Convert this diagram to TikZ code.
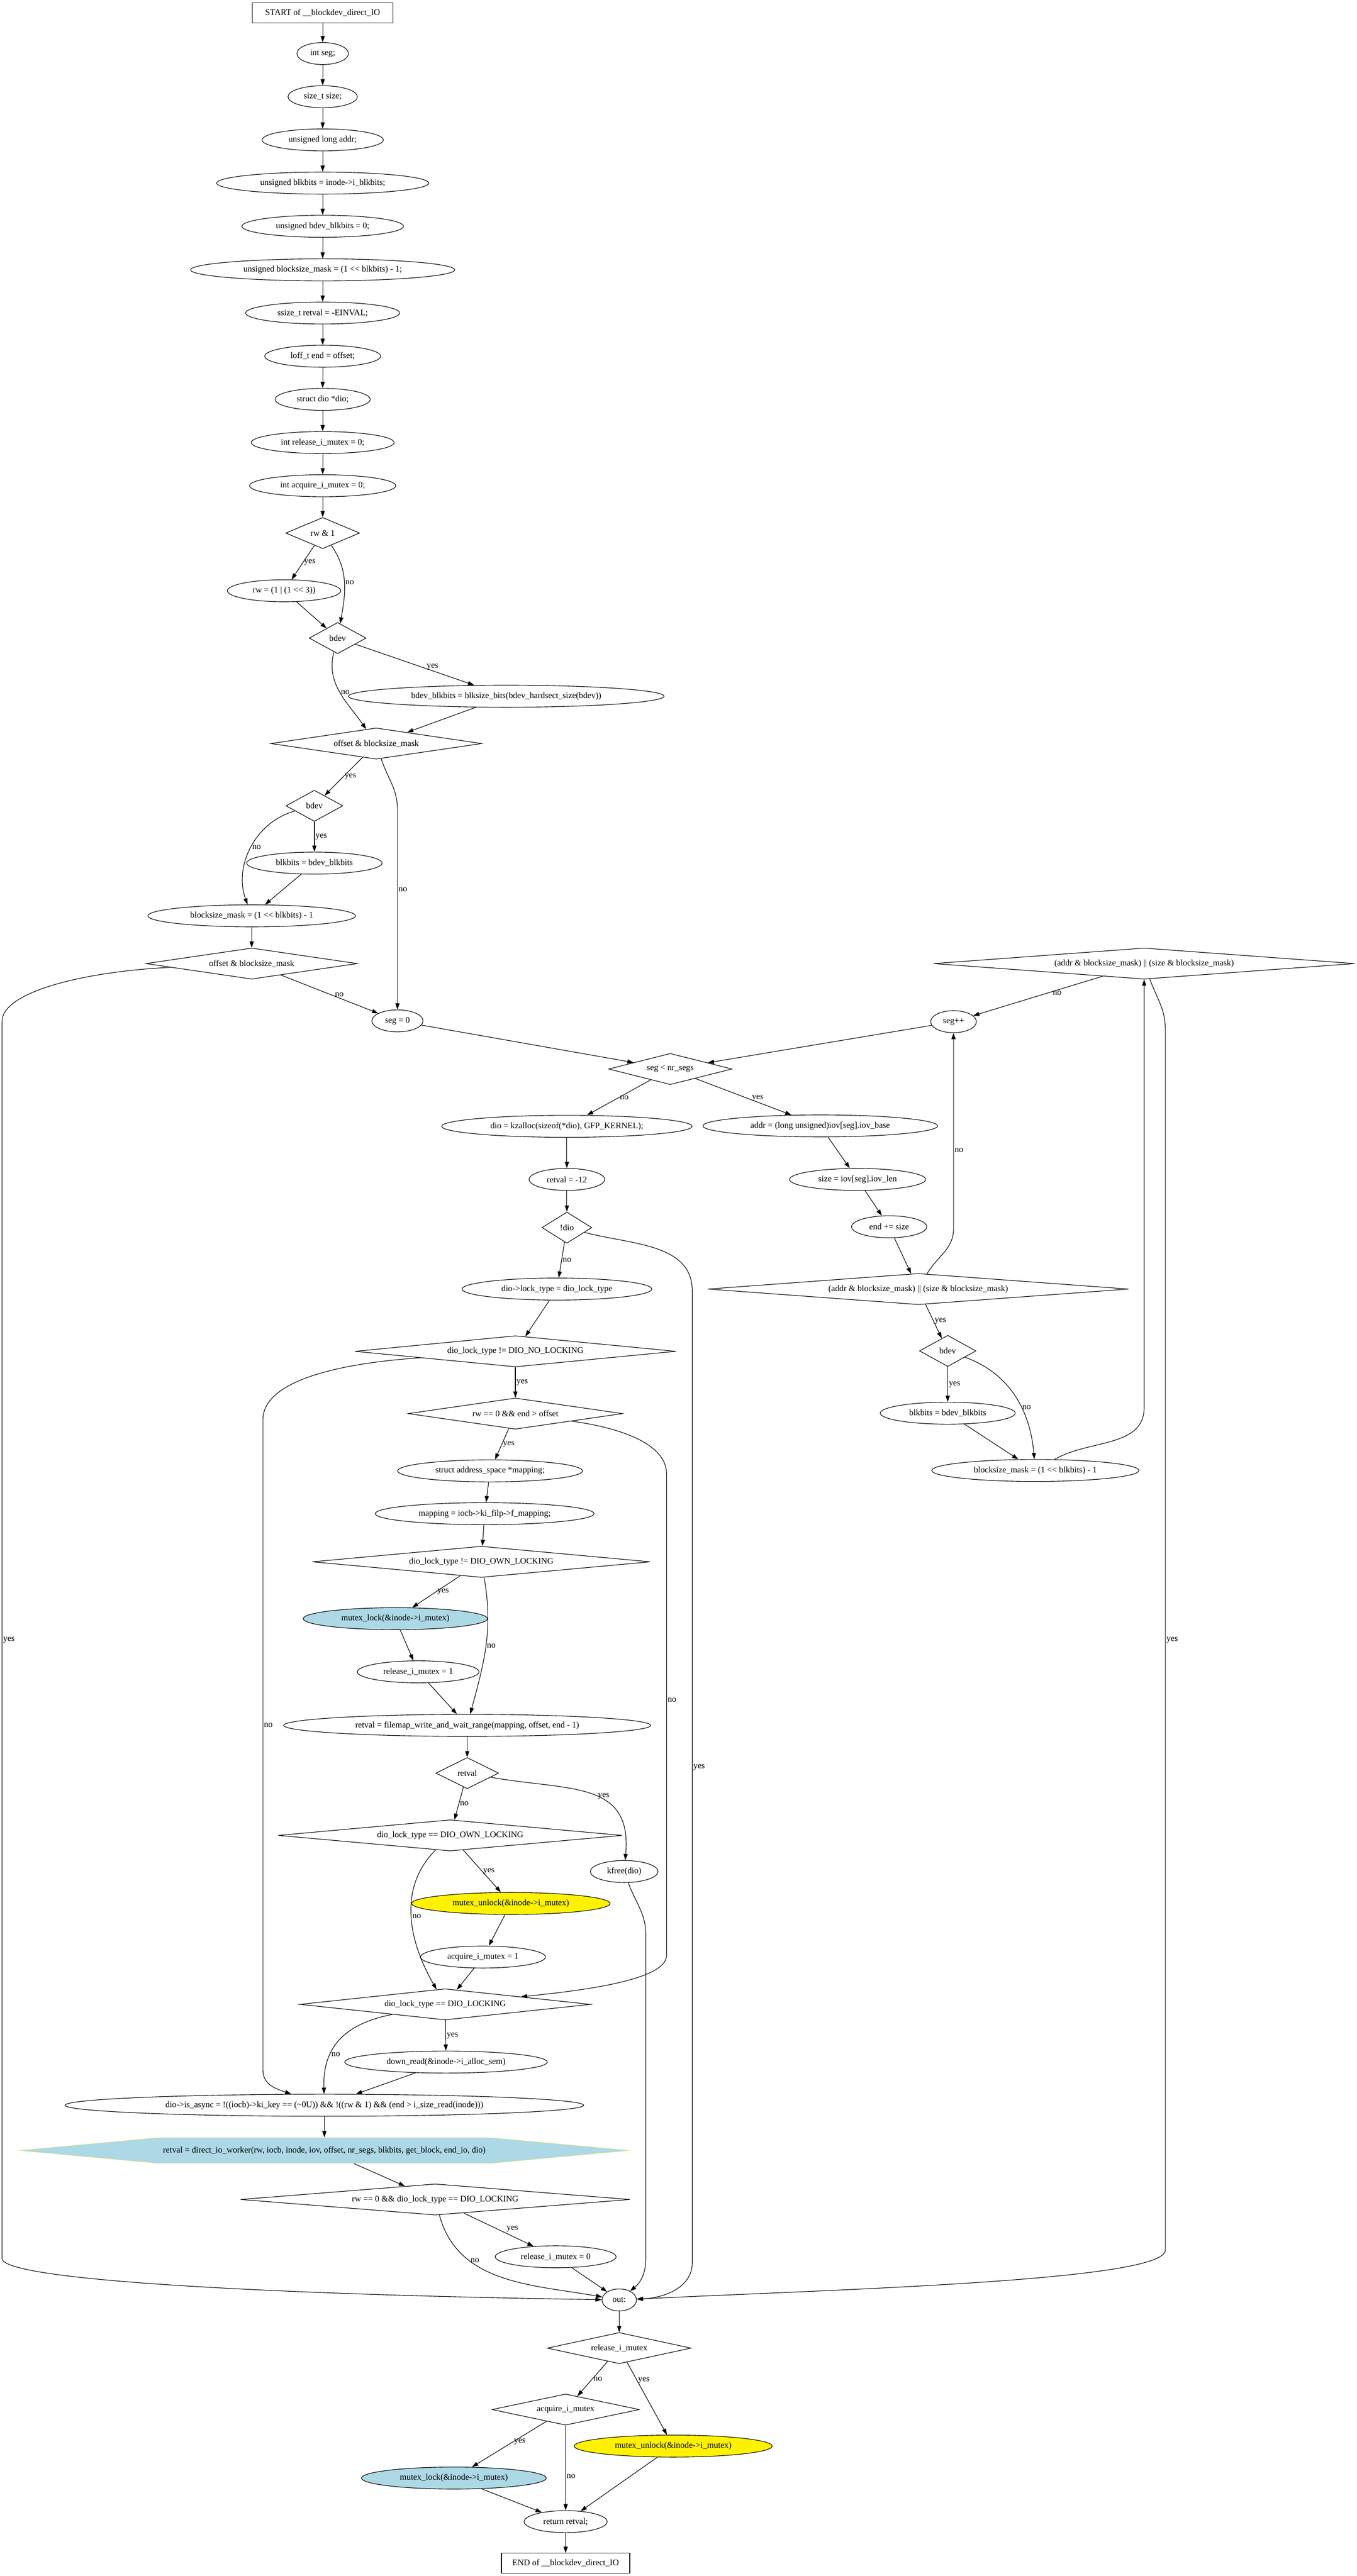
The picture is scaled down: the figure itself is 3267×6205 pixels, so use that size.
\documentclass[tikz,border=0pt]{standalone}
\usepackage{fontspec}
\setmainfont{Liberation Serif}
\usetikzlibrary{shapes.geometric,arrows.meta,calc,backgrounds}
\definecolor{lightblue}{HTML}{ADD8E6}
\tikzset{
  stmt/.style={draw, ellipse, inner sep=0pt, minimum height=53pt, minimum width=#1pt},
  cond/.style={draw, diamond, inner sep=0pt, minimum height=75pt, minimum width=#1pt,
    /utils/exec={\pgfmathsetmacro\condasp{#1/75}}, aspect=\condasp},
  term/.style={draw, rectangle, inner sep=0pt, minimum height=48pt, minimum width=#1pt},
  hexbox/.style={inner sep=0pt, minimum height=62pt, minimum width=802pt},
  lbl/.style={inner sep=2pt}
}
\begin{document}
\begin{tikzpicture}[x=1pt, y=-1pt, line width=1.4pt, >={Triangle[length=15pt,width=10pt]},
    font=\fontsize{20.7}{25}\selectfont]
\useasboundingbox (0,0) rectangle (3267,6205);

\node[term=338] (start) at (777,31) {START of \_\_blockdev\_direct\_IO};
\foreach \n/\y/\w/\txt in {
    seg/129/124/{int seg;},
    size/233/167/{size\_t size;},
    laddr/337/292/{unsigned long addr;},
    blkbits/441/511/{unsigned blkbits = inode->i\_blkbits;},
    bdevbits/545/389/{unsigned bdev\_blkbits = 0;},
    bsmask/650/636/{unsigned blocksize\_mask = (1 <{}< blkbits) - 1;},
    einval/754/371/{ssize\_t retval = -EINVAL;},
    loff/858/279/{loff\_t end = offset;},
    diop/962/229/{struct dio *dio;},
    relz/1066/344/{int release\_i\_mutex = 0;},
    acqz/1170/352/{int acquire\_i\_mutex = 0;}} {
  \node[stmt=\w] (\n) at (777,\y) {\txt};
}
\node[cond=178] (rwtest) at (777,1284) {rw \& 1};
\node[stmt=273] (rwset) at (684,1423) {rw = (1 | (1 <{}< 3))};
\node[cond=137] (bdevA) at (813,1537) {bdev};
\node[stmt=760] (hardsect) at (1219,1677) {bdev\_blkbits = blksize\_bits(bdev\_hardsect\_size(bdev))};
\node[cond=508] (offA) at (906,1791) {offset \& blocksize\_mask};
\node[cond=137] (bdevB) at (757,1941) {bdev};
\node[stmt=326] (blkB) at (757,2079) {blkbits = bdev\_blkbits};
\node[stmt=500] (maskB) at (606,2206) {blocksize\_mask = (1 <{}< blkbits) - 1};
\node[cond=509] (offB) at (606,2321) {offset \& blocksize\_mask};
\node[stmt=123] (segzero) at (957,2459) {seg = 0};
\node[cond=1014] (alignA) at (2755,2321) {(addr \& blocksize\_mask) || (size \& blocksize\_mask)};
\node[stmt=110] (seginc) at (2296,2461) {seg++};
\node[cond=297] (segloop) at (1614,2575) {seg < nr\_segs};
\node[stmt=603] (kzalloc) at (1365,2713) {dio = kzalloc(sizeof(*dio), GFP\_KERNEL);};
\node[stmt=565] (iovbase) at (1975,2712) {addr = (long unsigned)iov[seg].iov\_base};
\node[stmt=182] (enomem) at (1365,2841) {retval = -12};
\node[stmt=328] (iovlen) at (2065,2841) {size = iov[seg].iov\_len};
\node[cond=120] (nodio) at (1365,2957) {!dio};
\node[stmt=181] (endadd) at (2141,2955) {end += size};
\node[stmt=457] (locktype) at (1341,3105) {dio->lock\_type = dio\_lock\_type};
\node[cond=1013] (alignB) at (2211,3105) {(addr \& blocksize\_mask) || (size \& blocksize\_mask)};
\node[cond=773] (nolock) at (1241,3255) {dio\_lock\_type != DIO\_NO\_LOCKING};
\node[cond=136] (bdevC) at (2282,3254) {bdev};
\node[cond=516] (rwread) at (1241,3405) {rw == 0 \&\& end > offset};
\node[stmt=325] (blkC) at (2282,3404) {blkbits = bdev\_blkbits};
\node[stmt=499] (maskC) at (2493,3542) {blocksize\_mask = (1 <{}< blkbits) - 1};
\node[stmt=445] (aspace) at (1180,3543) {struct address\_space *mapping;};
\node[stmt=527] (mapping) at (1167,3646) {mapping = iocb->ki\_filp->f\_mapping;};
\node[cond=814] (ownA) at (1159,3762) {dio\_lock\_type != DIO\_OWN\_LOCKING};
\node[stmt=444, fill=lightblue] (lockA) at (952,3899) {mutex\_lock(\&inode->i\_mutex)};
\node[stmt=293] (relone) at (1007,4027) {release\_i\_mutex = 1};
\node[stmt=884] (filemap) at (1125,4156) {retval = filemap\_write\_and\_wait\_range(mapping, offset, end - 1)};
\node[cond=151] (rvtest) at (1125,4271) {retval};
\node[cond=828] (ownB) at (1084,4421) {dio\_lock\_type == DIO\_OWN\_LOCKING};
\node[stmt=163] (kfree) at (1503,4508) {kfree(dio)};
\node[stmt=478, fill=yellow] (unlockA) at (1230,4585) {mutex\_unlock(\&inode->i\_mutex)};
\node[stmt=301] (acqone) at (1163,4714) {acquire\_i\_mutex = 1};
\node[cond=700] (dlock) at (1072,4828) {dio\_lock\_type == DIO\_LOCKING};
\node[stmt=488] (downread) at (1074,4967) {down\_read(\&inode->i\_alloc\_sem)};
\node[stmt=1249] (async) at (781,5071) {dio->is\_async = !((iocb)->ki\_key == (\textasciitilde 0U)) \&\& !((rw \& 1) \&\& (end > i\_size\_read(inode)))};
\node[hexbox] (worker) at (781,5180) {retval = direct\_io\_worker(rw, iocb, inode, iov, offset, nr\_segs, blkbits, get\_block, end\_io, dio)};
\node[cond=938] (rwlock) at (1048,5298) {rw == 0 \&\& dio\_lock\_type == DIO\_LOCKING};
\node[stmt=291] (relzero) at (1338,5436) {release\_i\_mutex = 0};
\node[stmt=83] (out) at (1491,5540) {out:};
\node[cond=346] (relq) at (1491,5656) {release\_i\_mutex};
\node[cond=355] (acqq) at (1362,5804) {acquire\_i\_mutex};
\node[stmt=477, fill=yellow] (unlockB) at (1621,5892) {mutex\_unlock(\&inode->i\_mutex)};
\node[stmt=445, fill=lightblue] (lockB) at (1093,5969) {mutex\_lock(\&inode->i\_mutex)};
\node[stmt=200] (ret) at (1362,6074) {return retval;};
\node[term=309] (finish) at (1362,6174) {END of \_\_blockdev\_direct\_IO};

\begin{scope}[on background layer]
  \filldraw[fill=lightblue, draw=yellow] ($(worker)+(-736,0)$) -- ($(worker)+(-401,-31)$)
    -- ($(worker)+(401,-31)$) -- ($(worker)+(736,0)$) -- ($(worker)+(401,31)$)
    -- ($(worker)+(-401,31)$) -- cycle;
\end{scope}

\foreach \a/\b in {start/seg, seg/size, size/laddr, laddr/blkbits, blkbits/bdevbits,
    bdevbits/bsmask, bsmask/einval, einval/loff, loff/diop, diop/relz, relz/acqz,
    acqz/rwtest, rwset/bdevA, hardsect/offA, blkB/maskB, maskB/offB, segzero/segloop,
    seginc/segloop, kzalloc/enomem, enomem/nodio, iovbase/iovlen, iovlen/endadd,
    endadd/alignB, blkC/maskC, locktype/nolock, aspace/mapping, mapping/ownA,
    lockA/relone, relone/filemap, filemap/rvtest, unlockA/acqone, acqone/dlock,
    downread/async, async/worker, worker/rwlock, relzero/out, out/relq, lockB/ret,
    unlockB/ret, ret/finish} {
  \draw[->] (\a) -- (\b);
}

\draw[->] (rwtest) -- node[lbl, right] {yes} (rwset);
\draw[->] (rwtest) to[out=-55, in=80] node[lbl, right] {no} (bdevA);
\draw[->] (bdevA) -- node[lbl, pos=0.65, above] {yes} (hardsect);
\draw[->] (bdevA) to[out=-105, in=125] node[lbl, right] {no} (offA);
\draw[->] (offA) -- node[lbl, right] {yes} (bdevB);
\draw[->] (offA) to[out=-72, in=90] (957,1950) -- node[lbl, right, pos=0.4] {no} (segzero);
\draw[->] (bdevB) -- node[lbl, right] {yes} (blkB);
\draw[->] (bdevB) to[out=195, in=110] node[lbl, right] {no} (maskB);
\draw[->] (offB) -- node[lbl, pos=0.6, above] {no} (segzero);
\draw[->] (offB) .. controls (200,2340) and (5,2390) .. (5,2460)
  -- node[lbl, right] {yes} (5,5440) .. controls (5,5495) and (700,5528) .. (out);

\draw[->] (segloop) -- node[lbl, right] {no} (kzalloc);
\draw[->] (segloop) -- node[lbl, pos=0.65, above] {yes} (iovbase);
\draw[->] (nodio) -- node[lbl, right] {no} (locktype);
\draw[->] (nodio) to[out=-15, in=90] (1667,3110) -- node[lbl, right, pos=0.49] {yes} (1667,5450)
  .. controls (1667,5510) and (1600,5535) .. (out);
\draw[->] (alignB) to[out=60, in=-90] (2296,2960) -- node[lbl, right, pos=0.4] {no} (seginc);
\draw[->] (alignB) -- node[lbl, right] {yes} (bdevC);
\draw[->] (bdevC) -- node[lbl, right] {yes} (blkC);
\draw[->] (bdevC) to[out=-20, in=95] node[lbl, right, pos=0.6] {no} (maskC);
\draw[->] (maskC) to[out=30, in=-90] (2755,3390) -- (alignA);
\draw[->] (alignA) -- node[lbl, pos=0.35, below] {no} (seginc);
\draw[->] (alignA) to[out=-70, in=90] (2806,2480) -- node[lbl, right] {yes} (2806,5420)
  .. controls (2806,5495) and (2000,5515) .. (out);

\draw[->] (nolock) -- node[lbl, right] {yes} (rwread);
\draw[->] (nolock) .. controls (800,3285) and (633,3330) .. (633,3420)
  -- node[lbl, right, pos=0.47] {no} (633,4985) .. controls (633,5020) and (660,5030) .. (async);
\draw[->] (rwread) -- node[lbl, right] {yes} (aspace);
\draw[->] (rwread) .. controls (1500,3440) and (1605,3480) .. (1605,3550)
  -- node[lbl, right, pos=0.47] {no} (1605,4710) .. controls (1605,4770) and (1400,4795) .. (dlock);
\draw[->] (ownA) -- node[lbl, right] {yes} (lockA);
\draw[->] (ownA) to[out=-80, in=75] node[lbl, right] {no} (filemap);
\draw[->] (rvtest) -- node[lbl, right] {no} (ownB);
\draw[->] (rvtest) to[out=-10, in=85, looseness=1.3] node[lbl, pos=0.6, above] {yes} (kfree);
\draw[->] (ownB) -- node[lbl, right] {yes} (unlockA);
\draw[->] (ownB) to[out=-135, in=120] node[lbl, right] {no} (dlock);
\draw[->] (dlock) -- node[lbl, right] {yes} (downread);
\draw[->] (dlock) .. controls (800,4880) and (778,4960) .. (async) node[lbl, right, pos=0.6] {no};
\draw[->] (kfree) to[out=-70, in=90] (1555,4660) -- (1555,5440)
  .. controls (1555,5480) and (1540,5500) .. (out);

\draw[->] (rwlock) -- node[lbl, pos=0.6, above right] {yes} (relzero);
\draw[->] (rwlock) to[out=-75, in=170] node[lbl, right, pos=0.3] {no} (out);
\draw[->] (relq) -- node[lbl, right] {no} (acqq);
\draw[->] (relq) -- node[lbl, right, pos=0.25] {yes} (unlockB);
\draw[->] (acqq) -- node[lbl, right, pos=0.45] {yes} (lockB);
\draw[->] (acqq) -- node[lbl, right, pos=0.6] {no} (ret);
\end{tikzpicture}
\end{document}
